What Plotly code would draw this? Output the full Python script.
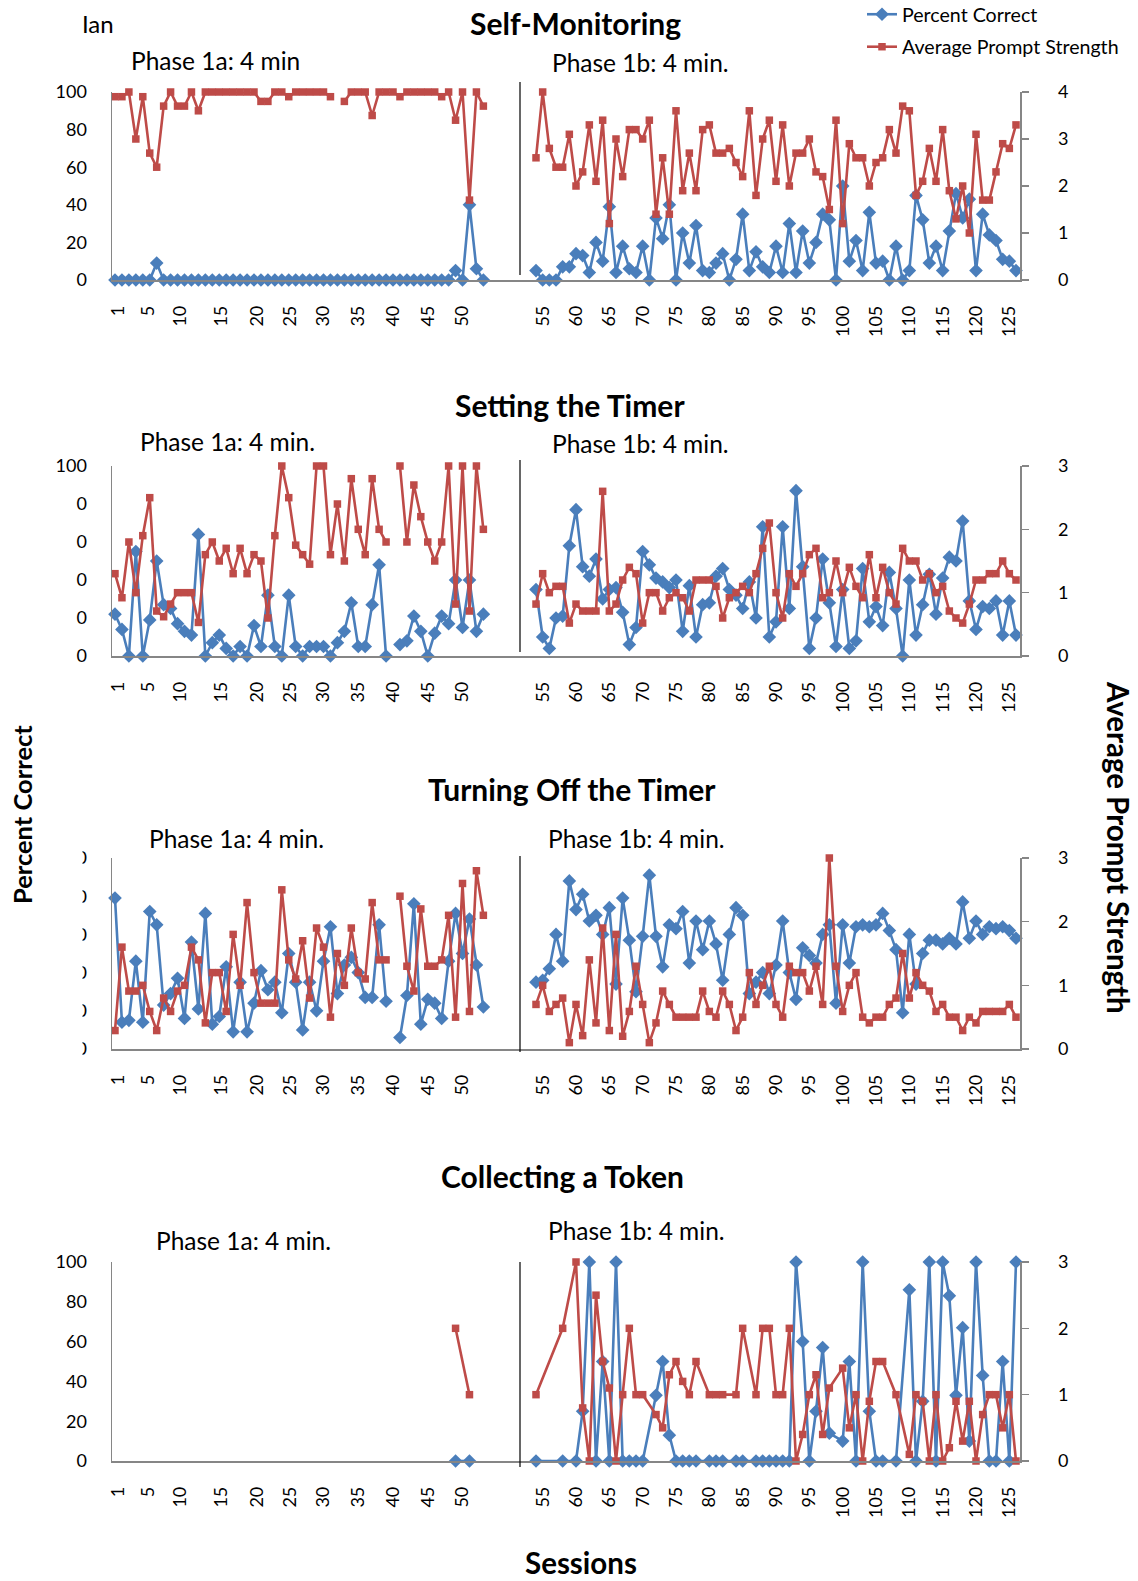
import plotly.graph_objects as go

W, H = 1138, 1581
BLUE = '#4A7EBB'
RED = '#BE4B48'
GRAY = '#868686'
FONT = 'Lato'

# ---------------- data ----------------
left_sessions = list(range(1, 55))
right_sessions = list(range(54, 127))
left_tick_pos = [1.5, 5.8, 10.4, 16.3, 21.4, 26.2, 31.0, 36.0, 41.0, 46.1, 50.9]
left_tick_text = ['1', '5', '10', '15', '20', '25', '30', '35', '40', '45', '50']
right_tick_vals = [55, 60, 65, 70, 75, 80, 85, 90, 95, 100, 105, 110, 115, 120, 125]
right_tick_text = [str(v) for v in right_tick_vals]

# Panel 1: Self-Monitoring
p1_left_pct = [0, 0, 0, 0, 0, 0, 9, 0, 0, 0, 0, 0, 0, 0, 0, 0, 0, 0, 0, 0,
               0, 0, 0, 0, 0, 0, 0, 0, 0, 0, 0, 0, 0, 0, 0, 0, 0, 0, 0, 0,
               0, 0, 0, 0, 0, 0, 0, 0, 0, 5, 0, 40, 6, 0]
p1_left_ps = [3.9, 3.9, 4.0, 3.0, 3.9, 2.7, 2.4, 3.7, 4.0, 3.7, 3.7, 4.0, 3.6,
              4.0, 4.0, 4.0, 4.0, 4.0, 4.0, 4.0, 4.0, 3.8, 3.8, 4.0, 4.0, 3.9,
              4.0, 4.0, 4.0, 4.0, 4.0, 3.9, None, 3.8, 4.0, 4.0, 4.0, 3.5, 4.0,
              4.0, 4.0, 3.9, 4.0, 4.0, 4.0, 4.0, 4.0, 3.9, 4.0, 3.4, 4.0, 1.7,
              4.0, 3.7]
p1_right_pct = [5, 0, 0, 0, 7, 7, 14, 13, 4, 20,
                10, 39, 4, 18, 6, 4, 18, 0, 33, 22,
                40, 0, 25, 9, 29, 5, 4, 9, 14, 0,
                11, 35, 5, 15, 7, 4, 18, 4, 30, 4,
                26, 9, 20, 35, 32, 0, 50, 10, 21, 5,
                36, 9, 10, 0, 18, 0, 5, 45, 32, 9,
                18, 5, 26, 46, 33, 43, 5, 35, 24, 21,
                11, 10, 5]
p1_right_ps = [2.6, 4.0, 2.8, 2.4, 2.4, 3.1, 2.0, 2.3, 3.3, 2.1,
               3.4, 1.2, 3.0, 2.2, 3.2, 3.2, 3.0, 3.4, 1.4, 2.6,
               1.4, 3.6, 1.9, 2.7, 1.9, 3.2, 3.3, 2.7, 2.7, 2.8,
               2.5, 2.2, 3.6, 1.8, 3.0, 3.4, 2.1, 3.3, 2.0, 2.7,
               2.7, 3.0, 2.3, 2.2, 1.5, 3.4, 1.2, 2.9, 2.6, 2.6,
               2.0, 2.5, 2.6, 3.2, 2.7, 3.7, 3.6, 1.8, 2.1, 2.8,
               2.1, 3.2, 1.9, 1.3, 2.0, 1.0, 3.1, 1.7, 1.7, 2.3,
               2.9, 2.8, 3.3]

# Panel 2: Setting the Timer
p2_left_pct = [22, 14, 0, 55, 0, 19, 50, 27, 25, 17, 13, 11, 64, 0, 7, 11, 4, 0,
               5, 0, 16, 5, 32, 5, 0, 32, 5, 0, 5, 5, 5, 0, 7, 13, 28, 5, 5, 27,
               48, 0, None, 6, 8, 21, 13, 0, 12, 21, 17, 40, 15, 40, 13, 22]
p2_left_ps = [1.3, 0.92, 1.8, 1.0, 1.9, 2.5, 0.71, 0.62, 0.82, 1.0, 1.0, 1.0,
              0.53, 1.6, 1.8, 1.5, 1.7, 1.3, 1.7, 1.3, 1.6, 1.5, 0.6, 1.9, 3.0,
              2.5, 1.75, 1.6, 1.45, 3.0, 3.0, 1.6, 2.4, 1.5, 2.8, 2.0, 1.6, 2.8,
              2.0, 1.8, None, 3.0, 1.8, 2.7, 2.2, 1.8, 1.5, 1.8, 3.0, 0.82, 3.0,
              0.71, 3.0, 2.0]
p2_right_pct = [35, 10, 4, 20, 21, 58, 77, 47, 42, 51,
                30, 35, 36, 23, 6, 15, 55, 48, 41, 39,
                36, 40, 13, 37, 10, 27, 28, 42, 46, 35,
                32, 25, 39, 20, 68, 10, 18, 68, 25, 87,
                47, 4, 20, 51, 28, 5, 35, 4, 8, 46,
                18, 26, 16, 44, 25, 0, 40, 11, 27, 43,
                22, 41, 52, 50, 71, 29, 14, 26, 25, 29,
                11, 29, 11]
p2_right_ps = [0.82, 1.3, 1.0, 1.1, 1.1, 0.52, 0.82, 0.71, 0.71, 0.71,
               2.6, 0.71, 0.82, 1.2, 1.4, 1.3, 0.52, 1.0, 1.0, 0.71,
               0.92, 1.0, 0.92, 0.71, 1.2, 1.2, 1.2, 1.1, 0.6, 0.92,
               1.0, 1.1, 1.0, 1.3, 1.7, 2.1, 1.0, 0.6, 1.3, 1.1,
               1.3, 1.6, 1.7, 0.92, 1.0, 1.5, 1.0, 1.4, 1.1, 0.92,
               1.6, 0.92, 1.4, 1.0, 0.82, 1.7, 1.5, 1.5, 1.2, 1.3,
               1.0, 1.1, 0.71, 0.6, 0.52, 0.82, 1.2, 1.2, 1.3, 1.3,
               1.5, 1.3, 1.2]

# Panel 3: Turning Off the Timer
p3_left_pct = [79, 14, 15, 46, 14, 72, 65, 23, 29, 37, 16, 56, 21, 71, 13, 17,
               43, 9, 35, 9, 24, 41, 31, 35, 19, 50, 35, 10, 35, 20, 46, 64, 29,
               44, 48, 40, 27, 27, 65, 25, None, 6, 28, 76, 13, 26, 24, 16, 46,
               71, 50, 68, 44, 22]
p3_left_ps = [0.29, 1.6, 0.91, 0.91, 1.0, 0.59, 0.29, 0.8, 0.59, 0.91, 1.0, 1.6,
              1.4, 0.41, 1.2, 1.2, 0.59, 1.8, 1.0, 2.3, 1.2, 0.72, 0.72, 0.72,
              2.5, 1.4, 1.1, 1.7, 0.8, 1.9, 1.6, 0.5, 1.5, 1.0, 1.9, 1.2, 1.1,
              2.3, 1.4, 1.4, None, 2.4, 1.3, 0.91, 2.2, 1.3, 1.3, 1.4, 2.1, 0.5,
              2.6, 0.59, 2.8, 2.1]
p3_right_pct = [35, 36, 42, 60, 46, 88, 73, 81, 67, 70,
                60, 74, 34, 79, 57, 30, 59, 91, 59, 43,
                65, 63, 72, 45, 67, 52, 67, 55, 36, 60,
                74, 70, 29, 35, 40, 29, 44, 67, 40, 26,
                53, 49, 45, 60, 65, 24, 65, 45, 64, 65,
                64, 65, 71, 62, 52, 19, 60, 34, 50, 57,
                57, 55, 58, 55, 77, 58, 67, 60, 64, 63,
                64, 62, 58]
p3_right_ps = [0.7, 1.0, 0.59, 0.7, 0.8, 0.1, 0.7, 0.21, 1.4, 0.41,
               1.9, 0.29, 1.8, 0.2, 0.59, 1.3, 0.7, 0.1, 0.41, 0.91,
               0.7, 0.5, 0.5, 0.5, 0.5, 0.91, 0.59, 0.5, 0.91, 0.7,
               0.29, 0.5, 1.2, 0.7, 1.0, 1.3, 0.7, 0.5, 1.3, 1.2,
               1.2, 0.91, 1.3, 0.7, 3.0, 1.3, 0.59, 1.0, 1.2, 0.5,
               0.41, 0.5, 0.5, 0.7, 0.8, 1.5, 0.8, 1.2, 1.0, 0.91,
               0.59, 0.7, 0.5, 0.5, 0.29, 0.5, 0.41, 0.59, 0.59, 0.59,
               0.59, 0.7, 0.5]

# Panel 4: Collecting a Token (only some sessions recorded)
p4_left_sessions = [50, 52]
p4_left_pct = [0, 0]
p4_left_ps = [2.0, 1.0]
p4_right_sessions = [54, 58, 60, 61, 62, 63, 64, 65, 66, 67,
                     68, 69, 70, 72, 73, 74, 75, 76, 77, 78,
                     80, 81, 82, 84, 85, 87, 88, 89, 90, 91,
                     92, 93, 94, 95, 96, 97, 98, 100, 101, 102,
                     103, 104, 105, 106, 108, 110, 111, 112, 113, 114,
                     115, 116, 117, 118, 119, 120, 121, 122, 123, 124,
                     125, 126]
p4_right_pct = [0, 0, 0, 25, 100, 0, 50, 0, 100, 0,
                0, 0, 0, 33, 50, 13, 0, 0, 0, 0,
                0, 0, 0, 0, 0, 0, 0, 0, 0, 0,
                0, 100, 60, 0, 25, 57, 14, 10, 50, 0,
                100, 25, 0, 0, 0, 86, 0, 30, 100, 0,
                100, 83, 33, 67, 10, 100, 43, 0, 0, 50,
                0, 100]
p4_right_ps = [1.0, 2.0, 3.0, 0.8, 0, 2.5, 1.5, 1.1, 0, 1.0,
               2.0, 1.0, 1.0, 0.7, 0.5, 1.3, 1.5, 1.2, 1.0, 1.5,
               1.0, 1.0, 1.0, 1.0, 2.0, 1.0, 2.0, 2.0, 1.0, 1.0,
               2.0, 0, 0.4, 1.0, 1.3, 0.4, 1.1, 1.4, 0.5, 1.0,
               0, 0.9, 1.5, 1.5, 1.0, 0.1, 1.0, 0.9, 0, 1.0,
               0, 0.2, 0.9, 0.3, 0.9, 0, 0.7, 1.0, 1.0, 0.5,
               1.0, 0]

pct_ticks = [0, 20, 40, 60, 80, 100]
pct_text_normal = ['0', '20', '40', '60', '80', '100']
pct_text_p2 = ['0', '0', '0', '0', '0', '100']
pct_text_p3 = ['0', '0', '0', '0', '0', '0']

# ---------------- layout helpers ----------------
def fx(px):
    return px / W


def fy(py):
    return 1 - py / H


XL_DOM = [fx(112), fx(520)]
XR_DOM = [fx(520), fx(1020)]
XL_RANGE = [0.57, 59.27]
XR_RANGE = [51.6, 126.6]

panels = [
    dict(title='Self-Monitoring', tx=575, ty=23, top=92, bottom=280, psmax=4,
         ph1=(215, 60, 'Phase 1a: 4 min'), ph2=(640, 63, 'Phase 1b: 4 min.'),
         div=(82, 275), pct_text=pct_text_normal,
         lx=left_sessions, lp=p1_left_pct, ls=p1_left_ps,
         rx=right_sessions, rp=p1_right_pct, rs=p1_right_ps, gaps=False),
    dict(title='Setting the Timer', tx=570, ty=405, top=466, bottom=656, psmax=3,
         ph1=(227, 441, 'Phase 1a: 4 min.'), ph2=(640, 444, 'Phase 1b: 4 min.'),
         div=(460, 652), pct_text=pct_text_p2,
         lx=left_sessions, lp=p2_left_pct, ls=p2_left_ps,
         rx=right_sessions, rp=p2_right_pct, rs=p2_right_ps, gaps=False),
    dict(title='Turning Off the Timer', tx=572, ty=789, top=858, bottom=1049, psmax=3,
         ph1=(236, 838, 'Phase 1a: 4 min.'), ph2=(636, 838, 'Phase 1b: 4 min.'),
         div=(856, 1052), pct_text=pct_text_p3,
         lx=left_sessions, lp=p3_left_pct, ls=p3_left_ps,
         rx=right_sessions, rp=p3_right_pct, rs=p3_right_ps, gaps=False),
    dict(title='Collecting a Token', tx=562, ty=1176, top=1262, bottom=1461, psmax=3,
         ph1=(243, 1240, 'Phase 1a: 4 min.'), ph2=(636, 1230, 'Phase 1b: 4 min.'),
         div=(1262, 1467), pct_text=pct_text_normal,
         lx=p4_left_sessions, lp=p4_left_pct, ls=p4_left_ps,
         rx=p4_right_sessions, rp=p4_right_pct, rs=p4_right_ps, gaps=True),
]


def axname(letter, i):
    return f'{letter}axis' if i == 1 else f'{letter}axis{i}'


def axref(letter, i):
    return letter if i == 1 else f'{letter}{i}'


tickfont = dict(family=FONT, size=18, color='black')
fig = go.Figure()
layout = dict(width=W, height=H, autosize=False, template='none',
              margin=dict(l=0, r=0, t=0, b=0, pad=0, autoexpand=False),
              paper_bgcolor='white', plot_bgcolor='rgba(0,0,0,0)',
              font=dict(family=FONT, color='black'),
              showlegend=True, hovermode=False)
shapes = []
annotations = []

for p, pn in enumerate(panels):
    xl, xr = 2 * p + 1, 2 * p + 2
    ypl, ysl, ypr, ysr = 4 * p + 1, 4 * p + 2, 4 * p + 3, 4 * p + 4
    ydom = [fy(pn['bottom']), fy(pn['top'])]
    psmax = pn['psmax']

    common_x = dict(showline=True, linecolor=GRAY, linewidth=1.5, ticks='',
                    showgrid=False, zeroline=False, tickangle=-90, automargin=False,
                    tickfont=tickfont, tickmode='array', ticklabelstandoff=17)
    layout[axname('x', xl)] = dict(common_x, domain=XL_DOM, range=XL_RANGE,
                                   anchor=axref('y', ypl),
                                   tickvals=left_tick_pos, ticktext=left_tick_text)
    layout[axname('x', xr)] = dict(common_x, domain=XR_DOM, range=XR_RANGE,
                                   anchor=axref('y', ypr),
                                   tickvals=right_tick_vals, ticktext=right_tick_text)
    layout[axname('y', ypl)] = dict(domain=ydom, range=[0, 100], anchor=axref('x', xl),
                                    side='left', showline=True, linecolor=GRAY,
                                    linewidth=1.5, ticks='', showgrid=False,
                                    zeroline=False, tickmode='array', automargin=False,
                                    tickvals=pct_ticks, ticktext=pn['pct_text'],
                                    tickfont=tickfont, ticklabelstandoff=20)
    layout[axname('y', ysl)] = dict(domain=ydom, range=[0, psmax], automargin=False,
                                    anchor=axref('x', xl), overlaying=axref('y', ypl),
                                    visible=False)
    layout[axname('y', ypr)] = dict(domain=ydom, range=[0, 100], automargin=False,
                                    anchor=axref('x', xr), visible=False)
    layout[axname('y', ysr)] = dict(domain=ydom, range=[0, psmax], automargin=False,
                                    anchor=axref('x', xr), overlaying=axref('y', ypr),
                                    side='right', showline=True, linecolor=GRAY,
                                    linewidth=1.5, ticks='outside', ticklen=7,
                                    tickcolor=GRAY, tickwidth=1.5, showgrid=False,
                                    zeroline=False, tickmode='array',
                                    tickvals=list(range(psmax + 1)),
                                    tickfont=tickfont, ticklabelstandoff=26)

    for seg, xs, pct, ps in (('L', pn['lx'], pn['lp'], pn['ls']),
                             ('R', pn['rx'], pn['rp'], pn['rs'])):
        xa = axref('x', xl if seg == 'L' else xr)
        ya_p = axref('y', ypl if seg == 'L' else ypr)
        ya_s = axref('y', ysl if seg == 'L' else ysr)
        first = (p == 0 and seg == 'L')
        fig.add_trace(go.Scatter(
            x=xs, y=pct, xaxis=xa, yaxis=ya_p, mode='lines+markers',
            name='Percent Correct', legendgroup='pc', showlegend=first,
            line=dict(color=BLUE, width=2.6),
            marker=dict(symbol='diamond', size=10.5, color=BLUE),
            connectgaps=pn['gaps'], cliponaxis=False, hoverinfo='skip'))
        fig.add_trace(go.Scatter(
            x=xs, y=ps, xaxis=xa, yaxis=ya_s, mode='lines+markers',
            name='Average Prompt Strength', legendgroup='aps', showlegend=first,
            line=dict(color=RED, width=2.6),
            marker=dict(symbol='square', size=7.5, color=RED),
            connectgaps=pn['gaps'], cliponaxis=False, hoverinfo='skip'))

    # phase change line
    shapes.append(dict(type='line', xref='paper', yref='paper',
                       x0=fx(520), x1=fx(520), y0=fy(pn['div'][1]), y1=fy(pn['div'][0]),
                       line=dict(color='black', width=1.2)))
    annotations.append(dict(text=f"<b>{pn['title']}</b>", x=fx(pn['tx']), y=fy(pn['ty']),
                            xref='paper', yref='paper', showarrow=False,
                            xanchor='center', yanchor='middle',
                            font=dict(family=FONT, size=30, color='black')))
    for (cx, cy, txt) in (pn['ph1'], pn['ph2']):
        annotations.append(dict(text=txt, x=fx(cx), y=fy(cy), xref='paper', yref='paper',
                                showarrow=False, xanchor='center', yanchor='middle',
                                font=dict(family=FONT, size=24.5, color='black')))

# clipped left labels of panel 3 (chart area edge)
shapes.append(dict(type='rect', xref='paper', yref='paper', layer='above',
                   x0=fx(55), x1=fx(82.5), y0=fy(1065), y1=fy(842),
                   fillcolor='white', line=dict(width=0)))

annotations += [
    dict(text='Ian', x=fx(98), y=fy(24), xref='paper', yref='paper', showarrow=False,
         xanchor='center', yanchor='middle', font=dict(family=FONT, size=24)),
    dict(text='<b>Sessions</b>', x=fx(581), y=fy(1562), xref='paper', yref='paper',
         showarrow=False, xanchor='center', yanchor='middle',
         font=dict(family=FONT, size=29.5)),
    dict(text='<b>Percent Correct</b>', x=fx(22), y=fy(815), xref='paper', yref='paper',
         showarrow=False, xanchor='center', yanchor='middle', textangle=-90,
         font=dict(family=FONT, size=25.5)),
    dict(text='<b>Average Prompt Strength</b>', x=fx(1119), y=fy(847), xref='paper',
         yref='paper', showarrow=False, xanchor='center', yanchor='middle',
         textangle=90, font=dict(family=FONT, size=29.5)),
]

layout['shapes'] = shapes
layout['annotations'] = annotations
layout['legend'] = dict(x=fx(862), y=1 + 5 / H, xanchor='left', yanchor='top',
                        font=dict(family=FONT, size=19.6, color='black'),
                        bgcolor='rgba(0,0,0,0)', tracegroupgap=4,
                        traceorder='grouped')
fig.update_layout(**layout)
fig.write_html('out.html',
               config={'displayModeBar': False, 'staticPlot': True},
               post_script="document.body.style.margin='0';"
                           "document.body.style.padding='0';")
